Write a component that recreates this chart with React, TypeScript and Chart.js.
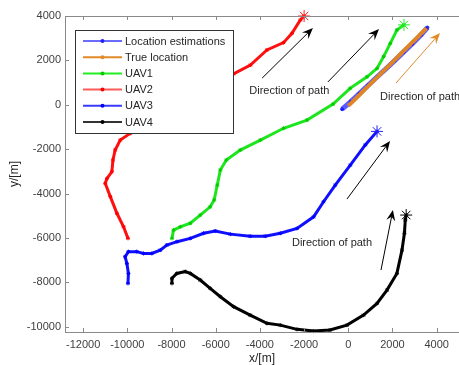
import React, { useEffect, useRef } from 'react';
import { Chart, registerables } from 'chart.js';

Chart.register(...registerables);

const xTicks = [-12000, -10000, -8000, -6000, -4000, -2000, 0, 2000, 4000];
const yTicks = [-10000, -8000, -6000, -4000, -2000, 0, 2000, 4000];

const estX = [-280, 100, 500, 900, 1300, 1700, 2100, 2500, 2900, 3300, 3580];
const estY = [-200, 130, 500, 880, 1250, 1620, 1990, 2370, 2750, 3150, 3480];

const trueX = [0, 400, 800, 1200, 1600, 2000, 2400, 2800, 3200, 3530];
const trueY = [-50, 340, 740, 1130, 1530, 1920, 2320, 2720, 3110, 3450];

const uav1X = [-7980, -7910, -7600, -7150, -6700, -6250, -6070, -5930, -5790, -5520, -4890, -3980, -2930, -1870, -690, 80, 850, 1300, 1600, 1900, 2200, 2520];
const uav1Y = [-6020, -5650, -5500, -5340, -4970, -4600, -4290, -3620, -2940, -2490, -2040, -1590, -1060, -690, 30, 740, 1260, 1640, 2170, 2770, 3370, 3600];

const uav2X = [-9970, -10170, -10470, -10770, -11000, -10920, -10700, -10650, -10550, -10320, -9870, -8960, -7600, -6250, -5190, -4430, -3680, -2930, -2550, -2170, -2000];
const uav2Y = [-6020, -5500, -4890, -4140, -3540, -3320, -3020, -2490, -2040, -1590, -1290, -600, 210, 890, 1390, 1790, 2470, 2800, 3220, 3820, 4000];

const uav3X = [-9970, -9950, -10020, -10100, -9950, -9570, -9270, -8890, -8510, -8210, -7750, -7150, -6550, -6020, -5340, -4440, -3760, -3080, -2320, -1570, -1120, -590, 90, 770, 1300];
const uav3Y = [-8050, -7600, -7150, -6850, -6620, -6620, -6700, -6700, -6550, -6320, -6170, -6020, -5790, -5690, -5830, -5920, -5920, -5790, -5570, -5050, -4370, -3620, -2720, -1810, -1200];

const uav4X = [-7980, -7980, -7760, -7380, -7150, -6700, -6250, -5790, -5190, -4440, -3680, -3080, -2320, -1570, -830, -60, 690, 1300, 1750, 2200, 2430, 2540, 2580, 2620];
const uav4Y = [-8050, -7820, -7600, -7520, -7600, -7900, -8270, -8650, -9100, -9480, -9850, -9930, -10120, -10200, -10150, -9930, -9480, -8950, -8350, -7600, -6550, -5790, -5190, -4970];

// annotation arrows (data coordinates): start -> end
const arrowX1 = [-3900, -920, 2160, 1480, -60];
const arrowY1 = [1200, 1030, 980, -7450, -4250];
const arrowX2 = [-1600, 1390, 4150, 2020, 1890];
const arrowY2 = [3460, 3410, 3230, -4740, -1630];
const arrowKind = ['black', 'black', 'orange', 'black', 'black'];

const noteText = ['Direction of path', 'Direction of path', 'Direction of path'];
const noteX = [-4480, 1435, -2550];
const noteY = [620, 350, -6230];

const FONT = '"Liberation Sans", Arial, Helvetica, sans-serif';

const zip = (xs: number[], ys: number[]) => xs.map((x, i) => ({ x, y: ys[i] }));
const last = (xs: number[], ys: number[]) => [{ x: xs[xs.length - 1], y: ys[ys.length - 1] }];

function drawArrow(ctx: CanvasRenderingContext2D, x1: number, y1: number, x2: number, y2: number, color: string) {
  const ang = Math.atan2(y2 - y1, x2 - x1);
  const c = Math.cos(ang), s = Math.sin(ang);
  const L = 11, W = 4.5, N = 7;
  ctx.save();
  ctx.strokeStyle = color;
  ctx.lineWidth = 1;
  ctx.beginPath();
  ctx.moveTo(x1, y1);
  ctx.lineTo(x2 - N * c, y2 - N * s);
  ctx.stroke();
  ctx.fillStyle = color;
  ctx.beginPath();
  ctx.moveTo(x2, y2);
  ctx.lineTo(x2 - L * c - W * s, y2 - L * s + W * c);
  ctx.lineTo(x2 - N * c, y2 - N * s);
  ctx.lineTo(x2 - L * c + W * s, y2 - L * s - W * c);
  ctx.closePath();
  ctx.fill();
  ctx.restore();
}

const overlayPlugin = {
  id: 'overlay',
  afterDatasetsDraw(chart: any) {
    const ctx: CanvasRenderingContext2D = chart.ctx;
    const xs = chart.scales.x;
    const ys = chart.scales.y;
    const ca = chart.chartArea;

    for (let i = 0; i < arrowX1.length; i++) {
      const col = arrowKind[i] === 'orange' ? '#e08a28' : '#000000';
      drawArrow(ctx, xs.getPixelForValue(arrowX1[i]), ys.getPixelForValue(arrowY1[i]),
        xs.getPixelForValue(arrowX2[i]), ys.getPixelForValue(arrowY2[i]), col);
    }
    ctx.save();
    ctx.font = `11px ${FONT}`;
    ctx.fillStyle = '#262626';
    ctx.textAlign = 'left';
    ctx.textBaseline = 'middle';
    for (let i = 0; i < noteText.length; i++) {
      ctx.fillText(noteText[i], xs.getPixelForValue(noteX[i]), ys.getPixelForValue(noteY[i]));
    }
    ctx.restore();

    // legend
    const lx = 75, ly = 30, lw = 158, lh = 103;
    ctx.save();
    ctx.fillStyle = '#ffffff';
    ctx.fillRect(lx, ly, lw, lh);
    ctx.strokeStyle = '#333333';
    ctx.lineWidth = 1;
    ctx.strokeRect(lx + 0.5, ly + 0.5, lw, lh);
    const items = chart.data.datasets.filter((d: any) => d.inLegend);
    items.forEach((d: any, i: number) => {
      const y = ly + 11 + i * 16.2;
      ctx.strokeStyle = d.legendLine;
      ctx.lineWidth = 2;
      ctx.beginPath();
      ctx.moveTo(83, y);
      ctx.lineTo(122, y);
      ctx.stroke();
      ctx.fillStyle = d.legendDot;
      ctx.beginPath();
      ctx.arc(102.5, y, 2, 0, Math.PI * 2);
      ctx.fill();
      ctx.fillStyle = '#262626';
      ctx.font = `11px ${FONT}`;
      ctx.textAlign = 'left';
      ctx.textBaseline = 'middle';
      ctx.fillText(d.label, 125, y + 0.5);
    });
    ctx.restore();

    // axes box + inward ticks
    ctx.save();
    ctx.strokeStyle = '#8a8a8a';
    ctx.lineWidth = 1;
    ctx.beginPath();
    ctx.moveTo(ca.left, ca.top + 0.5);
    ctx.lineTo(ca.right, ca.top + 0.5);
    ctx.moveTo(ca.left + 0.5, ca.top);
    ctx.lineTo(ca.left + 0.5, ca.bottom);
    ctx.moveTo(ca.left, ca.bottom + 0.5);
    ctx.lineTo(ca.right, ca.bottom + 0.5);
    xs.ticks.forEach((t: any) => {
      const px = Math.round(xs.getPixelForValue(t.value)) + 0.5;
      ctx.moveTo(px, ca.bottom);
      ctx.lineTo(px, ca.bottom - 4);
      ctx.moveTo(px, ca.top);
      ctx.lineTo(px, ca.top + 4);
    });
    ys.ticks.forEach((t: any) => {
      const py = Math.round(ys.getPixelForValue(t.value)) + 0.5;
      ctx.moveTo(ca.left, py);
      ctx.lineTo(ca.left + 4, py);
    });
    ctx.stroke();
    ctx.restore();
  },
};

export default function App() {
  const ref = useRef<HTMLCanvasElement | null>(null);

  useEffect(() => {
    if (!ref.current) return;
    const line = (label: string, xsv: number[], ysv: number[], color: string, width: number, pstyle: any, pr: number, order: number, legendLine: string, legendDot: string) => ({
      label,
      data: zip(xsv, ysv),
      showLine: true,
      borderColor: color,
      backgroundColor: legendDot,
      borderWidth: width,
      pointStyle: pstyle,
      pointRadius: pr,
      pointBorderWidth: 1,
      pointBorderColor: legendDot,
      pointBackgroundColor: legendDot,
      clip: false,
      order,
      inLegend: true,
      legendLine,
      legendDot,
    });
    const star = (xsv: number[], ysv: number[], color: string) => ({
      label: '',
      data: last(xsv, ysv),
      showLine: false,
      pointStyle: 'star',
      pointRadius: 6,
      pointBorderWidth: 1,
      pointBorderColor: color,
      pointBackgroundColor: color,
      clip: false,
      order: 0,
      inLegend: false,
    });

    const chart = new Chart(ref.current, {
      type: 'scatter',
      data: {
        datasets: [
          line('Location estimations', estX, estY, '#5c5cff', 5, 'circle', 1.5, 2, '#6b6bff', '#2020ff'),
          line('True location', trueX, trueY, '#df8525', 4, 'circle', 0, 1, '#e08a28', '#e08a28'),
          line('UAV1', uav1X, uav1Y, '#1ee61e', 3, 'star', 2, 3, '#22ee22', '#00cc00'),
          line('UAV2', uav2X, uav2Y, '#ff1010', 3, 'star', 2, 3, '#ff5a5a', '#ff0000'),
          line('UAV3', uav3X, uav3Y, '#1010ff', 3, 'star', 2, 3, '#3a3aff', '#0000ff'),
          line('UAV4', uav4X, uav4Y, '#000000', 3, 'star', 2, 3, '#333333', '#000000'),
          star(uav1X, uav1Y, '#22ee22'),
          star(uav2X, uav2Y, '#ff2020'),
          star(uav3X, uav3Y, '#2020ff'),
          star(uav4X, uav4Y, '#000000'),
        ] as any,
      },
      options: {
        responsive: false,
        animation: false,
        events: [],
        layout: { autoPadding: false, padding: { top: 16, right: 0, left: 0, bottom: 0 } },
        plugins: { legend: { display: false }, tooltip: { enabled: false }, title: { display: false } },
        scales: {
          x: {
            type: 'linear',
            min: -12820,
            max: 5010,
            grid: { display: false, drawTicks: false },
            border: { display: false },
            afterBuildTicks: (s: any) => { s.ticks = xTicks.map((v) => ({ value: v })); },
            afterFit: (s: any) => { s.height = 33; s.paddingLeft = 0; s.paddingRight = 0; },
            ticks: {
              padding: 6,
              color: '#404040',
              font: { family: FONT, size: 11 },
              maxRotation: 0,
              autoSkip: false,
              callback: (v: any) => String(v),
            },
            title: { display: true, text: 'x/[m]', color: '#262626', font: { family: FONT, size: 12, lineHeight: 1 }, padding: { top: 0, bottom: 0 } },
          },
          y: {
            type: 'linear',
            min: -10240,
            max: 4000,
            grid: { display: false, drawTicks: false },
            border: { display: false },
            afterBuildTicks: (s: any) => { s.ticks = yTicks.map((v) => ({ value: v })); },
            afterFit: (s: any) => { s.width = 65; s.paddingTop = 0; s.paddingBottom = 0; },
            ticks: {
              padding: 4,
              color: '#404040',
              font: { family: FONT, size: 11 },
              autoSkip: false,
              callback: (v: any) => String(v),
            },
            title: { display: true, text: 'y/[m]', color: '#262626', font: { family: FONT, size: 12, lineHeight: 1 }, padding: { top: 9, bottom: 0 } },
          },
        },
      } as any,
      plugins: [overlayPlugin],
    });
    return () => chart.destroy();
  }, []);

  return (
    <div style={{ position: 'fixed', left: 0, top: 0, width: 459, height: 365, background: '#ffffff' }}>
      <canvas ref={ref} width={459} height={365} style={{ display: 'block' }} />
    </div>
  );
}
